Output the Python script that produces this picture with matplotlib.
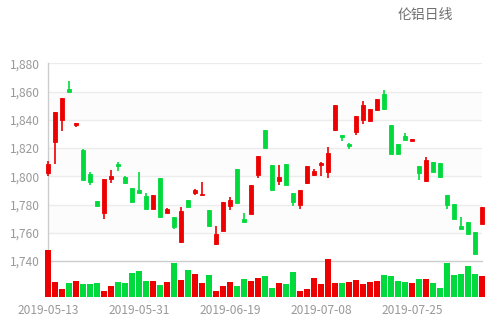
import matplotlib

matplotlib.use("Agg")
import matplotlib.pyplot as plt
import numpy as np
import pandas as pd

# LME aluminium daily candles, 2019-05-13 .. 2019-08-08 (UK bank holiday 05-27 skipped)
dates = [d for d in pd.bdate_range("2019-05-13", "2019-08-08") if d != pd.Timestamp("2019-05-27")]
date_labels = [d.strftime("%Y-%m-%d") for d in dates]

opens = [1802, 1824, 1840, 1861.5, 1836, 1818.5, 1801.5, 1782.5, 1774, 1798,
         1808.5, 1799.5, 1791.5, 1790.5, 1786, 1776.5, 1798.5, 1774, 1771.5, 1753.5,
         1783, 1788, 1786.5, 1776, 1752, 1761.5, 1779, 1805, 1770, 1773,
         1801, 1832.5, 1808, 1796.5, 1808.5, 1788.5, 1780, 1795, 1801, 1808,
         1803, 1833, 1829.5, 1823, 1831, 1840, 1839, 1847, 1858.5, 1836.5,
         1822.5, 1828.5, 1825, 1807.5, 1797, 1810, 1809.5, 1786.5, 1780.5, 1765,
         1767.5, 1760.5, 1766]
closes = [1809, 1845.5, 1855.5, 1860, 1837.5, 1797.5, 1796, 1779, 1798, 1800.5,
          1807, 1795, 1782, 1788, 1777, 1786.5, 1771, 1776.5, 1764, 1775.5,
          1778, 1790.5, 1787.5, 1764.5, 1759, 1781.5, 1783.5, 1781, 1767.5, 1793.5,
          1814.5, 1820, 1790, 1799.5, 1794, 1782, 1790.5, 1807.5, 1803.5, 1809.5,
          1816.5, 1850.5, 1828, 1821.5, 1842.5, 1850.5, 1847.5, 1854.5, 1847.5, 1816,
          1816, 1826, 1826.5, 1802, 1811.5, 1803, 1799.5, 1780, 1770, 1763,
          1759, 1745, 1778.5]
lows = [1800, 1809, 1832, 1860, 1835, 1797.5, 1793.5, 1779, 1770, 1795.5,
        1803.5, 1795, 1782, 1788, 1777, 1776.5, 1771, 1774, 1763, 1753,
        1778, 1786.5, 1786.5, 1764.5, 1751, 1761.5, 1776, 1781, 1767.5, 1773,
        1799, 1820, 1790, 1794, 1794, 1779, 1777, 1794.5, 1800.5, 1800,
        1799, 1832, 1825, 1819.5, 1829.5, 1837, 1839, 1846, 1847, 1816,
        1816, 1826, 1825, 1797.5, 1796, 1803, 1799, 1777, 1770, 1763,
        1759, 1745, 1766]
highs = [1810.5, 1845.5, 1855.5, 1867.5, 1837.5, 1819, 1803, 1782.5, 1798, 1804.5,
         1810, 1800, 1791.5, 1803, 1788, 1786.5, 1798.5, 1777.5, 1771.5, 1778,
         1783, 1791, 1796, 1776, 1765, 1781.5, 1785.5, 1805, 1774, 1793.5,
         1814.5, 1832.5, 1808, 1808, 1808.5, 1788.5, 1790.5, 1807.5, 1805, 1810,
         1821, 1850.5, 1829.5, 1823.5, 1842.5, 1853.5, 1847.5, 1854.5, 1861, 1836.5,
         1822.5, 1830.5, 1826.5, 1807.5, 1813.5, 1810, 1809.5, 1786.5, 1780.5, 1771,
         1767.5, 1760.5, 1778.5]
volumes = [140, 43, 23, 42, 47, 37, 38, 40, 17, 31,
           43, 41, 71, 77, 46, 47, 35, 44, 101, 50,
           80, 68, 42, 65, 18, 31, 43, 32, 53, 46,
           56, 62, 27, 41, 38, 74, 18, 23, 56, 39,
           113, 41, 40, 44, 49, 39, 43, 47, 66, 63,
           48, 45, 40, 52, 52, 40, 26, 101, 65, 69,
           92, 69, 62]
# 1 = rising day (red), 0 = falling day (green), as coloured in the volume pane
volume_rise = [1, 1, 1, 0, 1, 0, 0, 0, 1, 1,
               0, 0, 0, 0, 0, 1, 0, 1, 0, 1,
               0, 1, 1, 0, 1, 1, 1, 0, 0, 1,
               1, 0, 0, 1, 0, 0, 1, 1, 1, 1,
               1, 1, 0, 1, 1, 1, 1, 1, 0, 0,
               0, 0, 1, 0, 1, 0, 0, 0, 0, 0,
               0, 0, 1]
price_ticks = [1740, 1760, 1780, 1800, 1820, 1840, 1860, 1880]
title = "伦铝日线"

UP = "#ec0000"
DOWN = "#00da3c"
W, H = 492, 326

plt.rcParams["font.family"] = ["Noto Sans CJK SC", "DejaVu Sans"]

fig = plt.figure(figsize=(W / 100, H / 100), dpi=100)


def px_axes(left, top, right, bottom):
    return fig.add_axes([left / W, 1 - bottom / H, (right - left) / W, (bottom - top) / H])


ax = px_axes(48, 63.3, 482, 261)
vax = px_axes(48, 250, 482, 296.7)

x = np.arange(len(opens))
o = np.array(opens)
c = np.array(closes)
colors = [UP if cc >= oo else DOWN for oo, cc in zip(o, c)]

# faint alternating bands + grid
for k in range(len(price_ticks) - 1):
    if k % 2 == 1:
        ax.axhspan(price_ticks[k], price_ticks[k + 1], color="#fcfcfc", zorder=0, lw=0)
for t in price_ticks[1:]:
    ax.axhline(t, color="#ececec", lw=1, zorder=1)

ax.vlines(x, lows, highs, colors=colors, lw=1.2, zorder=3, clip_on=False)
ax.bar(x, np.maximum(np.abs(c - o), 0.7), bottom=np.minimum(o, c), width=0.68,
       color=colors, edgecolor=colors, lw=0.6, zorder=4, clip_on=False)

ax.set_xlim(0, len(opens) - 1)
ax.set_ylim(price_ticks[0], price_ticks[-1])
ax.set_yticks(price_ticks, [f"{t:,}" for t in price_ticks])
ax.set_xticks([])
ax.tick_params(axis="y", length=0, pad=6, labelsize=8.6, labelcolor="#999999")
for side in ["top", "right"]:
    ax.spines[side].set_visible(False)
for side in ["left", "bottom"]:
    ax.spines[side].set_color("#cccccc")
    ax.spines[side].set_linewidth(1)
ax.set_facecolor("white")

vcolors = [UP if r else DOWN for r in volume_rise]
vax.bar(x, volumes, width=0.76, color=vcolors, lw=0, clip_on=False)
vax.set_xlim(0, len(opens) - 1)
vax.set_ylim(0, 140)
vax.patch.set_alpha(0)
for side in vax.spines.values():
    side.set_visible(False)
vax.set_yticks([])
vax.set_xticks(x[::13], [date_labels[i] for i in x[::13]])
vax.tick_params(axis="x", length=0, pad=5, labelsize=8.6, labelcolor="#999999")

fig.text(398 / W, 1 - 15.5 / H, title, fontsize=10, color="#707070", va="center", ha="left")

fig.savefig("out.png", dpi=100)
